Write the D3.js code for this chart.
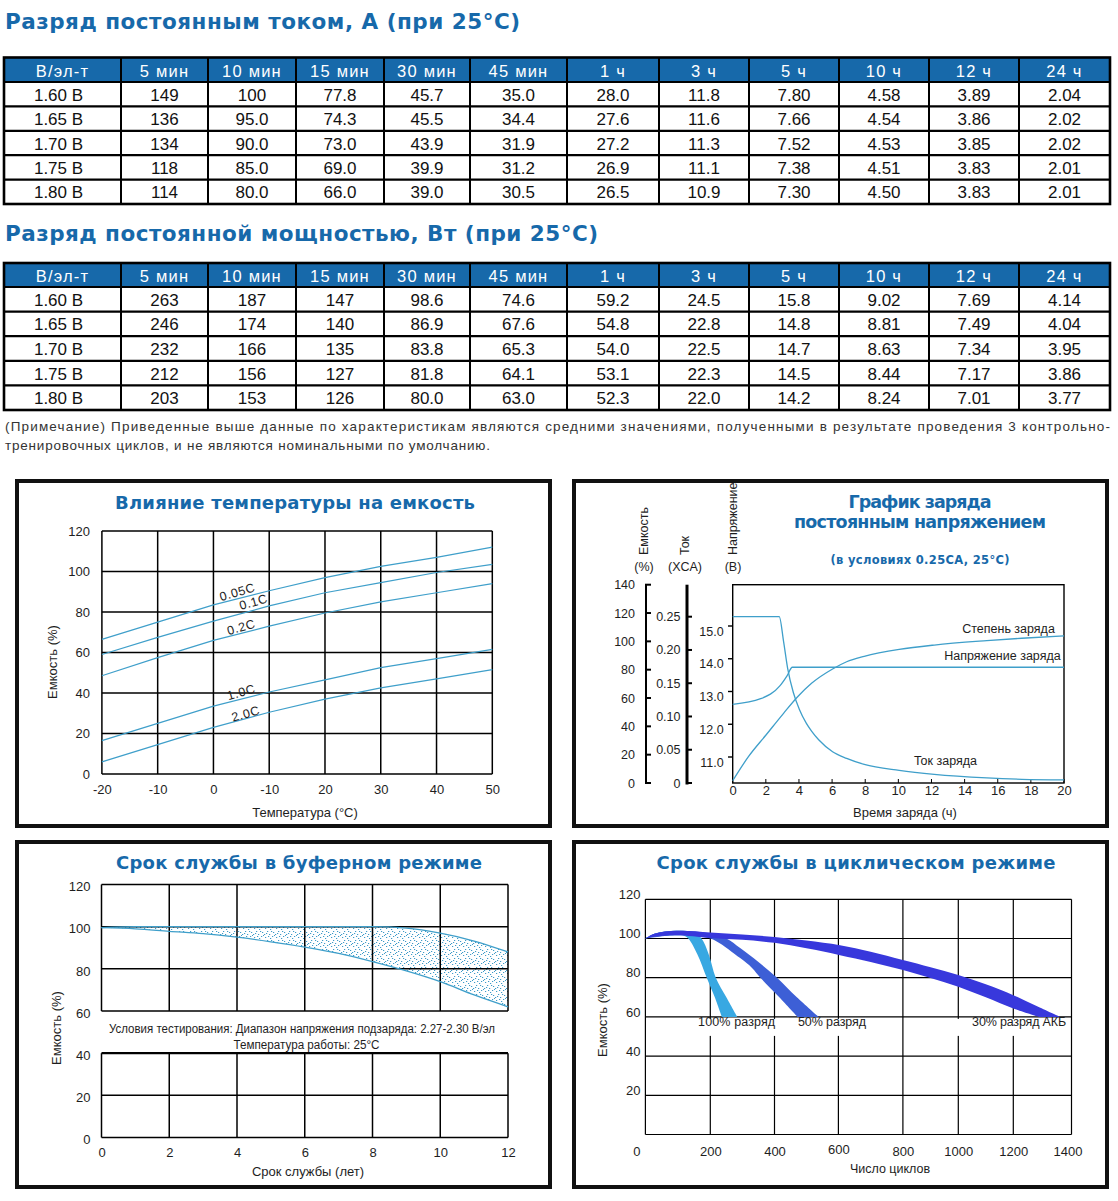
<!DOCTYPE html>
<html><head><meta charset="utf-8">
<script src="https://cdn.jsdelivr.net/npm/d3@7"></script>
<style>
body{margin:0;background:#fff}
svg{display:block}
text{font-family:"Liberation Sans",Arial,Helvetica,sans-serif}
</style>
</head><body>
<svg id="c" width="1118" height="1201"></svg>
<script>
// ---------------- DATA ----------------
const durations = ["5 мин","10 мин","15 мин","30 мин","45 мин","1 ч","3 ч","5 ч","10 ч","12 ч","24 ч"];
const cellVoltages = ["1.60 В","1.65 В","1.70 В","1.75 В","1.80 В"];
const currentTable = [
  [149,100,77.8,45.7,35.0,28.0,11.8,7.80,4.58,3.89,2.04],
  [136,95.0,74.3,45.5,34.4,27.6,11.6,7.66,4.54,3.86,2.02],
  [134,90.0,73.0,43.9,31.9,27.2,11.3,7.52,4.53,3.85,2.02],
  [118,85.0,69.0,39.9,31.2,26.9,11.1,7.38,4.51,3.83,2.01],
  [114,80.0,66.0,39.0,30.5,26.5,10.9,7.30,4.50,3.83,2.01]
];
const powerTable = [
  [263,187,147,98.6,74.6,59.2,24.5,15.8,9.02,7.69,4.14],
  [246,174,140,86.9,67.6,54.8,22.8,14.8,8.81,7.49,4.04],
  [232,166,135,83.8,65.3,54.0,22.5,14.7,8.63,7.34,3.95],
  [212,156,127,81.8,64.1,53.1,22.3,14.5,8.44,7.17,3.86],
  [203,153,126,80.0,63.0,52.3,22.0,14.2,8.24,7.01,3.77]
];

// Temperature vs capacity
const tempTicks = [-20,-10,0,10,20,30,40,50];
const tempTickLabels = ["-20","-10","0","-10","20","30","40","50"];
const rateNames = ["0.05C","0.1C","0.2C","1.0C","2.0C"];
const cap005 = [66.5,75,83.5,90.5,97,102.5,107,112];
const cap01  = [59,67.5,75.5,83,89.5,94.5,99.5,103.5];
const cap02  = [48.5,57.5,66,73,79.5,85,89.5,94];
const cap10  = [16.5,25,33.5,40.5,46.5,52.5,57,61.5];
const cap20  = [6,14.5,23,30.5,37,42.5,47,51.5];
const rateLabelTemp = [4.3,7.2,5.0,5.0,5.8];
const rateLabelCap  = [89.7,84.8,72.4,40.3,29.6];

// Constant voltage charge
const curTime  = [0,2.81,3.07,3.32,3.66,4.02,4.44,4.76,5.19,6.03,6.88,7.94,10.05,12.17,15.34,17.46,20];
const curVals  = [0.25,0.25,0.213,0.172,0.136,0.111,0.09,0.078,0.065,0.047,0.037,0.028,0.019,0.013,0.0077,0.0056,0.0046];
const voltTime = [0,1.69,2.86,3.28,3.6,20];
const voltVals = [12.61,12.78,13.18,13.48,13.74,13.74];
const socTime  = [0,0.95,2.01,3.07,3.92,4.76,6.03,6.88,7.94,10.05,12.17,15.34,17.46,20];
const socVals  = [1.6,18.6,33.9,49.2,60.9,70.4,80.5,85.6,89.4,94.3,97.4,100.5,102.2,103.8];

// Float service life
const lifeYears = [0,1,2,3,4,5,6,7,8,9,10,11,12];
const lifeUpper = [99.5,100,100,100,100,100,100,100,100,99.3,96.9,93.2,88];
const lifeLower = [99.5,99,97.8,96.7,95,92.8,90.3,87.3,83.4,79,73.9,67.6,62];

// Cycle service life  [cycles, capacity %]
const cycleTicks = [0,200,400,600,800,1000,1200,1400];
const dod100Outer = [[0,100],[30,102.5],[96,103.9],[150,103],[173,100],[195,92],[217,80],[250,70],[284,60]];
const dod100Inner = [[0,100],[30,101],[96,101.7],[116,101.5],[132,100],[160,92],[189,80],[214,70],[236,60]];
const dod50Outer  = [[0,100],[30,102.5],[96,103.9],[200,102.5],[250,100],[293,95.1],[350,88],[408,80],[470,70],[538,60]];
const dod50Inner  = [[0,100],[96,101.7],[189,100.5],[220,98.5],[293,90],[330,85],[356,80],[415,70],[472,60]];
const dod30Outer  = [[0,100],[30,102.5],[96,103.9],[200,103.1],[300,102],[400,100.8],[500,99],[605,96.6],[700,93.2],[800,89],[900,85.3],[1000,81.4],[1100,76.6],[1200,71.1],[1280,65.5],[1360,60]];
const dod30Inner  = [[0,100],[30,101],[96,101.7],[200,100.3],[300,99.3],[400,97.8],[500,95],[605,91.5],[700,88],[800,83.9],[900,79.8],[1000,75.4],[1100,70],[1200,64.3],[1290,60]];
const dodNames = ["100% разряд","50% разряд","30% разряд АКБ"];
const dodLabelCycles = [282,580,1220];

// ---------------- DRAWING ----------------
const FONT = '"Liberation Sans", Arial, Helvetica, sans-serif';
const TFONT = '"DejaVu Sans", Verdana, sans-serif';
const BLUE = "#1769aa", LINE = "#3f9fca", INK = "#1e1e1e";
const svg = d3.select("#c");
svg.append("rect").attr("width",1118).attr("height",1201).attr("fill","#fff");

function txt(g, x, y, s, o = {}) {
  const t = g.append("text").attr("x", x).attr("y", y).text(s)
    .attr("font-size", o.size || 12).attr("fill", o.fill || INK)
    .attr("text-anchor", o.anchor || "start").attr("dominant-baseline", "central");
  if (o.bold) t.attr("font-weight", "bold");
  if (o.font) t.style("font-family", o.font);
  if (o.len) t.attr("textLength", o.len).attr("lengthAdjust", o.adj || "spacing");
  if (o.rot) t.attr("transform", `rotate(${o.rot},${x},${y})`);
  if (o.ls) t.style("letter-spacing", o.ls);
  return t;
}
function title(g, x, y, s, size, len, anchor) {
  return txt(g, x, y, s, {size, bold: true, fill: BLUE, font: TFONT, len, anchor: anchor || "middle"});
}
function ln(g, x1, y1, x2, y2, w = 1.4, c = "#000") {
  return g.append("line").attr("x1", x1).attr("y1", y1).attr("x2", x2).attr("y2", y2)
    .attr("stroke", c).attr("stroke-width", w);
}
function labelAxis(g, axis, tx, ty, size = 13) {
  const a = g.append("g").attr("transform", `translate(${tx},${ty})`).call(axis);
  a.attr("font-family", FONT).attr("font-size", size).style("color", INK);
  a.select(".domain").remove();
  a.selectAll(".tick line").remove();
  return a;
}
function panel(x0, y0, x1, y1) {
  const g = svg.append("g");
  g.append("rect").attr("x", x0 + 2).attr("y", y0 + 2).attr("width", x1 - x0 - 4).attr("height", y1 - y0 - 4)
    .attr("fill", "#fff").attr("stroke", "#111").attr("stroke-width", 4);
  return g;
}

// ---- Tables ----
const fmt = d3.format(".3r");
const colEdges = [4,121,208,296,384,470,567,659,749,839,929,1019,1110];
function drawTable(top, hH, rH, rows) {
  const g = svg.append("g");
  const L = colEdges[0], R = colEdges[colEdges.length - 1];
  const bottom = top + hH + rH * rows.length;
  g.append("rect").attr("x", L).attr("y", top).attr("width", R - L).attr("height", hH).attr("fill", BLUE);
  ["В/эл-т", ...durations].forEach((h, i) =>
    txt(g, (colEdges[i] + colEdges[i + 1]) / 2, top + hH / 2 + 1, h, {size: 16.5, fill: "#fff", anchor: "middle", ls: "1.2px"}));
  rows.forEach((row, r) => {
    const cy = top + hH + rH * r + rH / 2 + 1;
    txt(g, (colEdges[0] + colEdges[1]) / 2 - 4, cy, cellVoltages[r], {size: 17, fill: "#111", anchor: "middle"});
    row.forEach((v, i) => txt(g, (colEdges[i + 1] + colEdges[i + 2]) / 2, cy, fmt(v), {size: 17, fill: "#111", anchor: "middle"}));
  });
  for (let r = 0; r < rows.length; r++) ln(g, L, top + hH + rH * r, R, top + hH + rH * r, 2.2);
  colEdges.forEach(x => ln(g, x, top, x, bottom, 2));
  g.append("rect").attr("x", L).attr("y", top).attr("width", R - L).attr("height", bottom - top)
    .attr("fill", "none").attr("stroke", "#000").attr("stroke-width", 2.6);
}
title(svg, 5, 21, "Разряд постоянным током, А (при 25°C)", 21.5, 515, "start");
drawTable(57.5, 24.5, 24.4, currentTable);
title(svg, 5, 233, "Разряд постоянной мощностью, Вт (при 25°C)", 21.5, 593, "start");
drawTable(263, 24, 24.6, powerTable);
txt(svg, 5, 426, "(Примечание) Приведенные выше данные по характеристикам являются средними значениями, полученными в результате проведения 3 контрольно-", {size: 13.5, fill: "#333", len: 1105});
txt(svg, 5, 445, "тренировочных циклов, и не являются номинальными по умолчанию.", {size: 13.5, fill: "#333", len: 485});

// ---- Panel A: temperature effect ----
{
  const g = panel(15, 479, 552, 828);
  const x = d3.scaleLinear().domain([-20, 50]).range([101.9, 492.3]);
  const y = d3.scaleLinear().domain([0, 120]).range([774, 531]);
  title(g, 295, 502, "Влияние температуры на емкость", 18, 360);
  const capTicks = d3.range(0, 121, 20);
  tempTicks.forEach(t => ln(g, x(t), y(0), x(t), y(120), 1.5));
  capTicks.forEach(v => ln(g, x(-20), y(v), x(50), y(v), 1.5));
  labelAxis(g, d3.axisBottom(x).tickValues(tempTicks).tickFormat((d, i) => tempTickLabels[i]).tickSize(0).tickPadding(11), 0, y(0));
  labelAxis(g, d3.axisLeft(y).tickValues(capTicks).tickSize(0).tickPadding(12), x(-20), 0);
  const line = d3.line().x((d, i) => x(tempTicks[i])).y(d => y(d));
  [cap005, cap01, cap02, cap10, cap20].forEach(s =>
    g.append("path").attr("d", line(s)).attr("fill", "none").attr("stroke", LINE).attr("stroke-width", 1.2));
  rateNames.forEach((n, i) =>
    txt(g, x(rateLabelTemp[i]), y(rateLabelCap[i]), n, {size: 12.5, anchor: "middle", rot: -16, ls: "0.6px"}));
  txt(g, 52, 662, "Емкость (%)", {size: 13, anchor: "middle", rot: -90});
  txt(g, 305, 812, "Температура (°C)", {size: 13, anchor: "middle"});
}

// ---- Panel B: constant voltage charge ----
{
  const g = panel(572, 479, 1109, 828);
  const x = d3.scaleLinear().domain([0, 20]).range([732.7, 1064]);
  const yCap = d3.scaleLinear().domain([0, 140]).range([783, 584.7]);
  const yCur = d3.scaleLinear().domain([0, 0.25]).range([783, 616.7]);
  const yV = d3.scaleLinear().domain([11, 15]).range([757, 626]);
  title(g, 920, 502, "График заряда", 17.5, 143);
  title(g, 920, 522, "постоянным напряжением", 17.5, 252);
  title(g, 920, 560, "(в условиях 0.25CA, 25°C)", 11.5, 179);
  // axis titles
  txt(g, 644, 555, "Емкость", {size: 12.5, rot: -90});
  txt(g, 685, 555, "Ток", {size: 12.5, rot: -90});
  txt(g, 733, 555, "Напряжение", {size: 12.5, rot: -90});
  txt(g, 644, 567, "(%)", {size: 12.5, anchor: "middle"});
  txt(g, 685, 567, "(XCA)", {size: 12.5, anchor: "middle"});
  txt(g, 733, 567, "(В)", {size: 12.5, anchor: "middle"});
  // capacity axis
  const capT = d3.range(0, 141, 20);
  ln(g, 646, yCap(140), 646, yCap(0) + 1, 2);
  capT.forEach(v => ln(g, 645, yCap(v), 651, yCap(v), 2));
  labelAxis(g, d3.axisLeft(yCap).tickValues(capT).tickSize(0).tickPadding(11), 646, 0, 12.5);
  // current axis
  const curT = [0, 0.05, 0.1, 0.15, 0.2, 0.25];
  ln(g, 687, yCap(140), 687, yCur(0) + 1.5, 3);
  curT.forEach(v => ln(g, 686, yCur(v), 692, yCur(v), 2));
  labelAxis(g, d3.axisLeft(yCur).tickValues(curT).tickFormat(d => d === 0 ? "0" : d3.format(".2f")(d)).tickSize(0).tickPadding(6.5), 687, 0, 12.5);
  // voltage axis ticks + frame
  const vT = [11, 12, 13, 14, 15];
  vT.forEach(v => ln(g, 728, yV(v), 733, yV(v), 1.4));
  labelAxis(g, d3.axisLeft(yV).tickValues(vT).tickFormat(d3.format(".1f")).tickSize(0).tickPadding(9), 732.7, 5, 12.5);
  g.append("rect").attr("x", x(0)).attr("y", yCap(140)).attr("width", x(20) - x(0)).attr("height", yCap(0) - yCap(140))
    .attr("fill", "none").attr("stroke", "#000").attr("stroke-width", 1.4);
  const tT = d3.range(0, 21, 2);
  tT.forEach(t => ln(g, x(t), yCap(0), x(t), yCap(0) - 4, 1));
  labelAxis(g, d3.axisBottom(x).tickValues(tT).tickSize(0).tickPadding(3), 0, yCap(0), 13);
  txt(g, 905, 812.5, "Время заряда (ч)", {size: 13, anchor: "middle"});
  // curves
  const mk = (ts, ys, sy) => d3.line().curve(d3.curveMonotoneX).x((d, i) => x(ts[i])).y(d => sy(d))(ys);
  g.append("path").attr("d", mk(curTime, curVals, yCur)).attr("fill", "none").attr("stroke", LINE).attr("stroke-width", 1.3);
  g.append("path").attr("d", mk(voltTime, voltVals, yV)).attr("fill", "none").attr("stroke", LINE).attr("stroke-width", 1.3);
  g.append("path").attr("d", mk(socTime, socVals, yCap)).attr("fill", "none").attr("stroke", LINE).attr("stroke-width", 1.3);
  txt(g, x(19.45), yCap(108.5), "Степень заряда", {size: 12.5, anchor: "end"});
  txt(g, x(19.8), yV(14.08), "Напряжение заряда", {size: 12.5, anchor: "end"});
  txt(g, x(10.94), yCur(0.033), "Ток заряда", {size: 12.5});
}

// ---- Panel C: float service life ----
{
  const g = panel(15, 840, 552, 1189);
  const x = d3.scaleLinear().domain([0, 12]).range([101.5, 508]);
  const y = d3.scaleLinear().domain([0, 120]).range([1137.5, 884.5]);
  title(g, 299, 862, "Срок службы в буферном режиме", 18, 366);
  const defs = svg.append("defs");
  const pat = defs.append("pattern").attr("id", "stip").attr("patternUnits", "userSpaceOnUse").attr("width", 11).attr("height", 9);
  [[1,1],[6,2],[3,4],[9,5],[0,7],[5,7],[8,0],[2,6],[7,4],[10,8],[4,0]].forEach(p =>
    pat.append("rect").attr("x", p[0]).attr("y", p[1]).attr("width", 1.2).attr("height", 1).attr("fill", "#3f9bc8"));
  const area = d3.area().curve(d3.curveMonotoneX).x((d, i) => x(lifeYears[i])).y0((d, i) => y(lifeLower[i])).y1(d => y(d));
  g.append("path").attr("d", area(lifeUpper)).attr("fill", "url(#stip)");
  const yTicks = d3.range(0, 121, 20);
  const xTicks = d3.range(0, 13, 2);
  xTicks.forEach(t => { ln(g, x(t), y(120), x(t), y(60), 1.5); ln(g, x(t), y(40), x(t), y(0), 1.5); });
  yTicks.forEach(v => ln(g, x(0), y(v), x(12), y(v), v === 40 ? 2.4 : 1.5));
  const line = d3.line().curve(d3.curveMonotoneX).x((d, i) => x(lifeYears[i])).y(d => y(d));
  g.append("path").attr("d", line(lifeUpper)).attr("fill", "none").attr("stroke", LINE).attr("stroke-width", 1.3);
  g.append("path").attr("d", line(lifeLower)).attr("fill", "none").attr("stroke", LINE).attr("stroke-width", 1.3);
  labelAxis(g, d3.axisBottom(x).tickValues(xTicks).tickSize(0).tickPadding(10), 0, y(0));
  labelAxis(g, d3.axisLeft(y).tickValues(yTicks).tickSize(0).tickPadding(11), x(0), 2);
  txt(g, 302, 1029, "Условия тестирования: Диапазон напряжения подзаряда: 2.27-2.30 В/эл", {size: 12.5, anchor: "middle", len: 386, adj: "spacingAndGlyphs"});
  txt(g, 306.5, 1044.5, "Температура работы: 25°C", {size: 12.5, anchor: "middle", len: 146, adj: "spacingAndGlyphs"});
  txt(g, 56, 1028, "Емкость (%)", {size: 13, anchor: "middle", rot: -90});
  txt(g, 308, 1171, "Срок службы (лет)", {size: 13, anchor: "middle"});
}

// ---- Panel D: cycle service life ----
{
  const g = panel(572, 840, 1109, 1189);
  const x = d3.scaleLinear().domain(cycleTicks).range([645.4, 710.3, 774.5, 838.4, 902.9, 958.3, 1013.3, 1071.5]);
  const y = d3.scaleLinear().domain([0, 120]).range([1134.5, 899.3]);
  title(g, 856, 862, "Срок службы в циклическом режиме", 18, 399);
  const yTicks = d3.range(20, 121, 20);
  cycleTicks.forEach(c => ln(g, x(c), y(0), x(c), y(120), 1.2));
  [0, ...yTicks].forEach(v => ln(g, x(0), y(v), x(1400), y(v), 1.2));
  const edge = d3.line().curve(d3.curveCatmullRom).x(d => x(d[0])).y(d => y(d[1]));
  const band = (outer, inner) => edge(outer) + "L" + edge(inner.slice().reverse()).slice(1) + "Z";
  g.append("path").attr("d", band(dod100Outer, dod100Inner)).attr("fill", "#38a8e2");
  g.append("path").attr("d", band(dod50Outer, dod50Inner)).attr("fill", "#3d5fd6");
  g.append("path").attr("d", band(dod30Outer, dod30Inner)).attr("fill", "#3838dc");
  // labels with white background
  const lens = [77, 68, 94];
  dodNames.forEach((n, i) => {
    const cx = x(dodLabelCycles[i]);
    g.append("rect").attr("x", cx - lens[i] / 2 - (i === 2 ? 18 : 2)).attr("y", y(60) + 2)
      .attr("width", lens[i] + (i === 2 ? 20 : 4)).attr("height", 17).attr("fill", "#fff");
    txt(g, cx, y(57.2), n, {size: 12.5, anchor: "middle", len: lens[i]});
  });
  const xa = labelAxis(g, d3.axisBottom(x).tickValues(cycleTicks).tickFormat(d3.format("d")).tickSize(0).tickPadding(12), 0, y(0));
  xa.selectAll(".tick text").attr("dx", d => d === 0 ? -9 : d === 1400 ? -4 : 0).attr("dy", d => d === 600 ? "0.55em" : "0.71em");
  labelAxis(g, d3.axisLeft(y).tickValues(yTicks).tickSize(0).tickPadding(5), x(0), -5);
  txt(g, 602, 1020, "Емкость (%)", {size: 13, anchor: "middle", rot: -90});
  txt(g, 890, 1169, "Число циклов", {size: 12.5, anchor: "middle"});
}
</script>
</body></html>
